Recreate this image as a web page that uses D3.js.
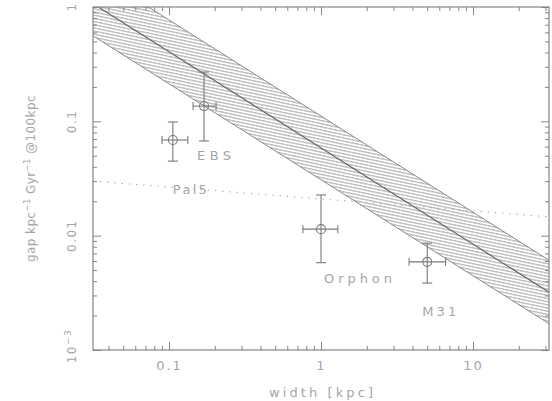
<!DOCTYPE html>
<html>
<head>
<meta charset="utf-8">
<script src="https://cdn.jsdelivr.net/npm/d3@7"></script>
<style>
  html, body { margin: 0; padding: 0; background: #fff; }
  svg { display: block; font-family: "DejaVu Sans", sans-serif; }
</style>
</head>
<body>
<svg id="chart" width="552" height="401"></svg>
<script>
// Observed streams: width [kpc] and gap rate, with error ranges
const streams   = ["", "EBS", "Orphon", "M31"];
const widthMid  = [0.106, 0.170, 1.0, 5.0];
const widthLow  = [0.090, 0.144, 0.76, 3.8];
const widthHigh = [0.133, 0.204, 1.29, 6.6];
const rateMid   = [0.0686, 0.136, 0.0114, 0.0059];
const rateLow   = [0.0449, 0.0673, 0.0058, 0.00385];
const rateHigh  = [0.0986, 0.270, 0.0227, 0.0086];

// Predicted rate band, given at its two end widths
const bandWidth = [0.0316, 31.6];
const bandMid   = [1.07, 0.0032];
const bandLow   = [0.56, 0.0017];
const bandHigh  = [2.03, 0.0061];

// Pal 5 reference level
const pal5Width = [0.0316, 31.6];
const pal5Rate  = [0.030, 0.0146];
const pal5Label = "Pal5";

// Axis ticks
const xTickValues = [0.1, 1, 10];
const xTickLabels = ["0.1", "1", "10"];
const yTickValues = [1, 0.1, 0.01, 0.001];
const yTickLabels = ["1", "0.1", "0.01", "10^-3"];

// ---- layout ----
const plotL = 93, plotR = 549, plotT = 7, plotB = 350;
const axisColor = "#858585", textColor = "#a6a6a6", markColor = "#7a7a7a";

const svg = d3.select("#chart");
const x = d3.scaleLog().domain([Math.pow(10, -1.5), Math.pow(10, 1.5)]).range([plotL, plotR]);
const y = d3.scaleLog().domain([0.001, 1]).range([plotB, plotT]);

// minor tick positions for each decade inside the domain
function minors(scale) {
  const [a, b] = scale.domain();
  const out = [];
  for (let e = -4; e <= 2; e++)
    for (let k = 2; k <= 9; k++) {
      const v = k * Math.pow(10, e);
      if (v >= a * 0.999 && v <= b * 1.001) out.push(v);
    }
  return out;
}

const defs = svg.append("defs");
defs.append("clipPath").attr("id", "plotClip")
  .append("rect").attr("x", plotL).attr("y", plotT)
  .attr("width", plotR - plotL).attr("height", plotB - plotT);

const hatch = defs.append("pattern").attr("id", "hatch")
  .attr("patternUnits", "userSpaceOnUse")
  .attr("width", 12).attr("height", 3.1)
  .attr("patternTransform", "rotate(12)");
hatch.append("line")
  .attr("x1", 0).attr("x2", 12).attr("y1", 1.5).attr("y2", 1.5)
  .attr("stroke", "#979797").attr("stroke-width", 0.9);

const plot = svg.append("g").attr("clip-path", "url(#plotClip)");

// ---- band ----
const bandPts = [
  [bandWidth[0], bandHigh[0]], [bandWidth[1], bandHigh[1]],
  [bandWidth[1], bandLow[1]],  [bandWidth[0], bandLow[0]]
];
const line = d3.line().x(d => x(d[0])).y(d => y(d[1]));
plot.append("path").attr("d", line(bandPts) + "Z")
  .attr("fill", "url(#hatch)").attr("stroke", "none");
[bandHigh, bandLow].forEach(edge => {
  plot.append("path")
    .attr("d", line(bandWidth.map((w, i) => [w, edge[i]])))
    .attr("fill", "none").attr("stroke", "#8a8a8a").attr("stroke-width", 1);
});
plot.append("path")
  .attr("d", line(bandWidth.map((w, i) => [w, bandMid[i]])))
  .attr("fill", "none").attr("stroke", "#6a6a6a").attr("stroke-width", 1.2);

// ---- Pal 5 level ----
plot.append("path")
  .attr("d", line(pal5Width.map((w, i) => [w, pal5Rate[i]])))
  .attr("fill", "none").attr("stroke", "#a0a0a0")
  .attr("stroke-width", 1.1).attr("stroke-dasharray", "1.2,6");
const pal5At = 0.106;
const pal5Y = Math.exp(d3.scaleLinear()
  .domain(pal5Width.map(Math.log)).range(pal5Rate.map(Math.log))(Math.log(pal5At)));
svg.append("text")
  .attr("x", x(pal5At)).attr("y", y(pal5Y) + 7)
  .attr("font-size", 13).attr("fill", textColor)
  .attr("textLength", 34).attr("lengthAdjust", "spacing")
  .text(pal5Label);

// ---- stream points with error bars ----
const capV = 5, capH = 4;
const pts = svg.append("g").attr("stroke", markColor).attr("stroke-width", 1.1).attr("fill", "none");
streams.forEach((name, i) => {
  const cx = x(widthMid[i]), cy = y(rateMid[i]);
  const g = pts.append("g");
  // vertical bar
  g.append("line").attr("x1", cx).attr("x2", cx).attr("y1", y(rateHigh[i])).attr("y2", y(rateLow[i]));
  g.append("line").attr("x1", cx - capV).attr("x2", cx + capV).attr("y1", y(rateHigh[i])).attr("y2", y(rateHigh[i]));
  g.append("line").attr("x1", cx - capV).attr("x2", cx + capV).attr("y1", y(rateLow[i])).attr("y2", y(rateLow[i]));
  // horizontal bar
  g.append("line").attr("x1", x(widthLow[i])).attr("x2", x(widthHigh[i])).attr("y1", cy).attr("y2", cy);
  g.append("line").attr("x1", x(widthLow[i])).attr("x2", x(widthLow[i])).attr("y1", cy - capH).attr("y2", cy + capH);
  g.append("line").attr("x1", x(widthHigh[i])).attr("x2", x(widthHigh[i])).attr("y1", cy - capH).attr("y2", cy + capH);
  // marker
  g.append("circle").attr("cx", cx).attr("cy", cy).attr("r", 4.5);
});

// stream names below their points
const nameDx = [0, -7, 3, -5];
const nameLen = { "EBS": 34, "Orphon": 68, "M31": 34 };
streams.forEach((name, i) => {
  if (!name) return;
  svg.append("text")
    .attr("x", x(widthMid[i]) + nameDx[i])
    .attr("y", y(rateMid[i]) + 54)
    .attr("font-size", 13).attr("fill", textColor)
    .attr("textLength", nameLen[name]).attr("lengthAdjust", "spacing")
    .text(name);
});

// ---- axes ----
function styleAxis(g) {
  g.select(".domain").remove();
  g.selectAll(".tick line").attr("stroke", axisColor);
  g.selectAll(".tick text").attr("fill", textColor).attr("font-size", 13)
    .attr("letter-spacing", "2px").attr("font-family", "DejaVu Sans, sans-serif");
}

// bottom
svg.append("g").attr("transform", `translate(0,${plotB})`)
  .call(d3.axisBottom(x).tickValues(xTickValues).tickSize(-8).tickPadding(11)
    .tickFormat((d, i) => xTickLabels[i])).call(styleAxis);
svg.append("g").attr("transform", `translate(0,${plotB})`)
  .call(d3.axisBottom(x).tickValues(minors(x)).tickSize(-4).tickFormat("")).call(styleAxis);
// top
svg.append("g").attr("transform", `translate(0,${plotT})`)
  .call(d3.axisTop(x).tickValues(xTickValues).tickSize(-8).tickFormat("")).call(styleAxis);
svg.append("g").attr("transform", `translate(0,${plotT})`)
  .call(d3.axisTop(x).tickValues(minors(x)).tickSize(-4).tickFormat("")).call(styleAxis);
// left
svg.append("g").attr("transform", `translate(${plotL},0)`)
  .call(d3.axisLeft(y).tickValues(yTickValues).tickSize(-8).tickFormat("")).call(styleAxis);
svg.append("g").attr("transform", `translate(${plotL},0)`)
  .call(d3.axisLeft(y).tickValues(minors(y)).tickSize(-4).tickFormat("")).call(styleAxis);
// right
svg.append("g").attr("transform", `translate(${plotR},0)`)
  .call(d3.axisRight(y).tickValues(yTickValues).tickSize(-8).tickFormat("")).call(styleAxis);
svg.append("g").attr("transform", `translate(${plotR},0)`)
  .call(d3.axisRight(y).tickValues(minors(y)).tickSize(-4).tickFormat("")).call(styleAxis);

// frame
svg.append("rect").attr("x", plotL).attr("y", plotT)
  .attr("width", plotR - plotL).attr("height", plotB - plotT)
  .attr("fill", "none").attr("stroke", axisColor).attr("stroke-width", 1.2);

// rotated y tick labels
yTickValues.forEach((v, i) => {
  const parts = yTickLabels[i].split("^");
  const t = svg.append("text")
    .attr("transform", `translate(76,${y(v) - (parts[1] ? 4 : 0)}) rotate(-90)`)
    .attr("text-anchor", "middle")
    .attr("font-size", 12).attr("fill", textColor).attr("letter-spacing", "1.5px");
  t.append("tspan").text(parts[0]);
  if (parts[1]) t.append("tspan").attr("dy", -5).attr("font-size", 9).text(parts[1].replace("-", "\u2212"));
});

// axis titles
svg.append("text")
  .attr("x", (plotL + plotR) / 2).attr("y", 397)
  .attr("text-anchor", "middle").attr("font-size", 13).attr("fill", textColor)
  .attr("textLength", 104).attr("lengthAdjust", "spacing")
  .text("width [kpc]");

const yt = svg.append("text")
  .attr("transform", `translate(35,${(plotT + plotB) / 2}) rotate(-90)`)
  .attr("text-anchor", "middle").attr("font-size", 12).attr("fill", textColor)
  .attr("letter-spacing", "0.4px");
yt.append("tspan").text("gap kpc");
yt.append("tspan").attr("dy", -5).attr("font-size", 8.5).text("\u22121");
yt.append("tspan").attr("dy", 5).text(" Gyr");
yt.append("tspan").attr("dy", -5).attr("font-size", 8.5).text("\u22121");
yt.append("tspan").attr("dy", 5).text(" @100kpc");
</script>
</body>
</html>
